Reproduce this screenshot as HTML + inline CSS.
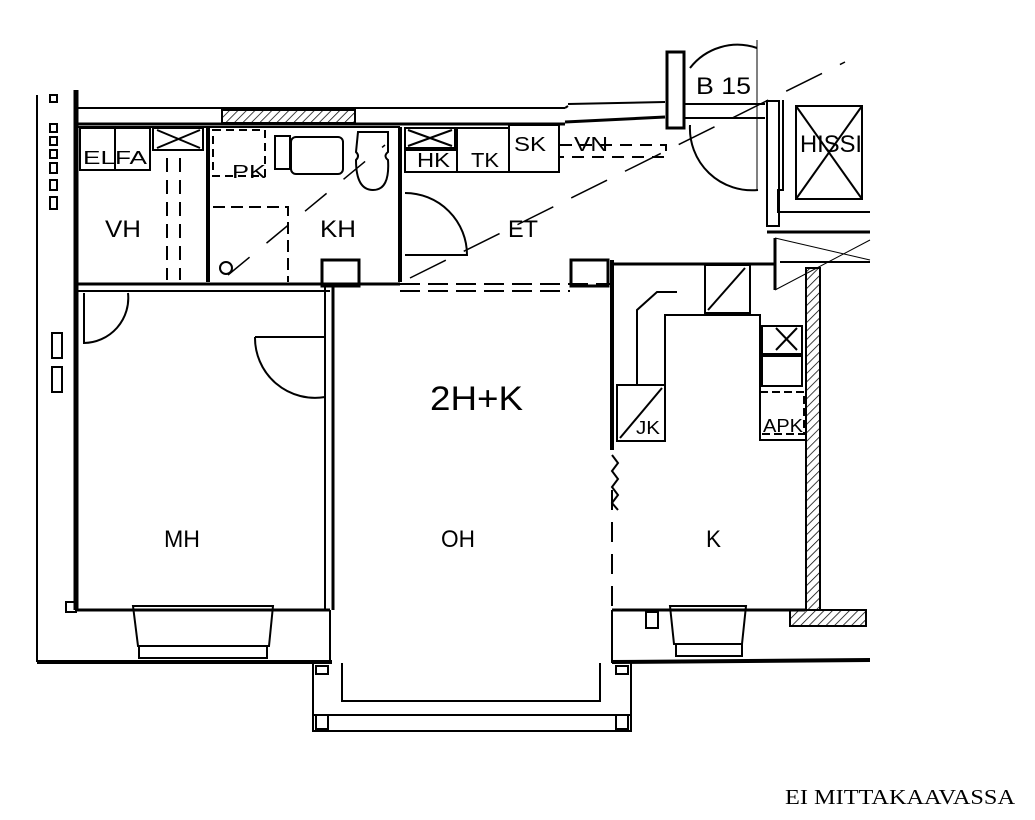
<!DOCTYPE html>
<html><head><style>
html,body{margin:0;padding:0;background:#fff;}
svg{display:block;}
text{font-family:"Liberation Sans","DejaVu Sans",sans-serif;fill:#000;}
</style></head><body>
<svg width="1035" height="820" viewBox="0 0 1035 820" xmlns="http://www.w3.org/2000/svg">
<defs>
<pattern id="h" width="6" height="6" patternUnits="userSpaceOnUse" patternTransform="rotate(45)"><line x1="0" y1="0" x2="0" y2="6" stroke="#000" stroke-width="1.5"/></pattern>
</defs>
<g stroke="#000" fill="none" stroke-width="2">
<line x1="37" y1="95" x2="37" y2="662"/>
<g stroke-width="2"><rect x="50" y="95" width="7" height="7"/><rect x="50" y="124" width="7" height="8"/><rect x="50" y="137" width="7" height="8"/><rect x="50" y="150" width="7" height="8"/><rect x="50" y="163" width="7" height="10"/><rect x="50" y="180" width="7" height="10"/><rect x="50" y="197" width="7" height="12"/>
<rect x="52" y="333" width="10" height="25"/><rect x="52" y="367" width="10" height="25"/></g>
<line x1="76" y1="90" x2="76" y2="610" stroke-width="5"/>
<line x1="76" y1="108" x2="565" y2="108"/><line x1="565" y1="108" x2="568" y2="106"/><line x1="568" y1="104" x2="665" y2="102"/>
<line x1="76" y1="124" x2="565" y2="124" stroke-width="3"/><line x1="565" y1="122" x2="665" y2="117" stroke-width="3"/>
<rect x="222" y="110" width="133" height="13" fill="url(#h)"/>
<rect x="667" y="52" width="17" height="76" stroke-width="3"/>
<path d="M690 68 A60 60 0 0 1 757 48"/><line x1="757" y1="40" x2="757" y2="190" stroke-width="1"/>
<path d="M690 125 A62 62 0 0 0 758 190"/>
<line x1="685" y1="104" x2="765" y2="104"/><line x1="685" y1="118" x2="765" y2="118"/>
<rect x="767" y="101" width="12" height="125"/>
<path d="M783 100 L783 190 L778 190 L778 212 L870 212"/>
<rect x="796" y="106" width="66" height="93"/><line x1="796" y1="106" x2="862" y2="199"/><line x1="862" y1="106" x2="796" y2="199"/>
<line x1="767" y1="232" x2="870" y2="232" stroke-width="3"/><line x1="775" y1="238" x2="775" y2="290" stroke-width="3"/>
<line x1="775" y1="238" x2="870" y2="260" stroke-width="1"/><line x1="775" y1="290" x2="870" y2="240" stroke-width="1"/>
<line x1="780" y1="262" x2="870" y2="262"/>
<line x1="76" y1="127" x2="400" y2="127"/>
<rect x="80" y="128" width="35" height="42"/><rect x="115" y="128" width="35" height="42"/>
<rect x="153" y="128" width="50" height="22"/><line x1="157" y1="130" x2="200" y2="148"/><line x1="200" y1="130" x2="157" y2="148"/>
<line x1="208" y1="127" x2="208" y2="282" stroke-width="4"/>
<line x1="167" y1="158" x2="167" y2="280" stroke-dasharray="14 8"/><line x1="180" y1="158" x2="180" y2="280" stroke-dasharray="14 8"/>
<rect x="213" y="130" width="52" height="46" stroke-dasharray="8 5"/>
<rect x="275" y="136" width="15" height="33"/><rect x="291" y="137" width="52" height="37" rx="5"/>
<path d="M358 132 h30 v20 q-5 4 0 8 q2 30 -15 30 q-17 0 -17 -30 q4 -4 0 -8 z"/>
<line x1="400" y1="127" x2="400" y2="282" stroke-width="4"/>
<path d="M213 207 h75 v75" stroke-dasharray="12 6"/>
<circle cx="226" cy="268" r="6"/>
<rect x="405" y="128" width="50" height="20"/><line x1="408" y1="130" x2="452" y2="146"/><line x1="452" y1="130" x2="408" y2="146"/>
<rect x="405" y="150" width="52" height="22"/><rect x="457" y="128" width="52" height="44"/><rect x="509" y="125" width="50" height="47"/>
<path d="M560 145 h106 v12 h-106" stroke-dasharray="12 8"/>
<path d="M405 193 A62 62 0 0 1 467 255 L405 255"/>
<line x1="228" y1="275" x2="385" y2="145" stroke-dasharray="28 22" stroke-width="1.5"/>
<line x1="410" y1="278" x2="845" y2="62" stroke-dasharray="40 20" stroke-width="1.5"/>
<line x1="76" y1="284" x2="400" y2="284" stroke-width="3"/><line x1="76" y1="291" x2="330" y2="291"/>
<line x1="400" y1="284" x2="610" y2="284" stroke-dasharray="20 8"/><line x1="400" y1="291" x2="570" y2="291" stroke-dasharray="20 8"/>
<rect x="322" y="260" width="37" height="26" stroke-width="3"/>
<rect x="571" y="260" width="37" height="26" stroke-width="3"/>
<path d="M84 293 v50 A45 45 0 0 0 128 293"/>
<path d="M255 337 h70 v60 A60 60 0 0 1 255 337"/>
<line x1="325" y1="285" x2="325" y2="610" stroke-width="2"/><line x1="333" y1="285" x2="333" y2="610" stroke-width="3"/>
<line x1="612" y1="260" x2="612" y2="450" stroke-width="4"/><line x1="612" y1="490" x2="612" y2="610" stroke-dasharray="20 12"/>
<path d="M612 455 l6 8 l-6 8 l6 8 l-6 8 l6 8 l-6 8 l6 7"/>
<line x1="612" y1="264" x2="775" y2="264" stroke-width="3"/>
<path d="M637 385 v-75 l20 -18 h20"/>
<path d="M665 400 v-85 h95 v125 h45"/>
<rect x="617" y="385" width="48" height="56"/><line x1="620" y1="438" x2="662" y2="388"/>
<rect x="705" y="265" width="45" height="48"/><line x1="708" y1="310" x2="745" y2="268"/>
<rect x="762" y="326" width="40" height="28"/><line x1="776" y1="328" x2="797" y2="350"/><line x1="797" y1="328" x2="776" y2="350"/>
<rect x="762" y="356" width="40" height="30"/>
<rect x="760" y="392" width="44" height="42" stroke-dasharray="8 4"/>
<rect x="806" y="268" width="14" height="342" fill="url(#h)"/>
<rect x="790" y="610" width="76" height="16" fill="url(#h)"/>
<line x1="76" y1="610" x2="330" y2="610" stroke-width="3"/>
<line x1="612" y1="610" x2="805" y2="610" stroke-width="3"/>
<rect x="66" y="602" width="10" height="10"/>
<path d="M133 606 h140 l-4 40 h-131 z"/><rect x="139" y="646" width="128" height="12"/>
<path d="M670 606 h76 l-4 38 h-68 z"/><rect x="676" y="644" width="66" height="12"/>
<rect x="646" y="612" width="12" height="16"/>
<line x1="37" y1="662" x2="332" y2="662" stroke-width="4"/>
<line x1="612" y1="662" x2="870" y2="660" stroke-width="4"/>
<path d="M313 663 v68 h318 v-68"/>
<path d="M342 663 v38 h258 v-38"/>
<line x1="330" y1="610" x2="330" y2="663"/><line x1="612" y1="610" x2="612" y2="663"/>
<line x1="313" y1="715" x2="631" y2="715"/>
<rect x="316" y="666" width="12" height="8"/><rect x="616" y="666" width="12" height="8"/>
<rect x="316" y="715" width="12" height="14"/><rect x="616" y="715" width="12" height="14"/>
</g>
<g font-size="24" lengthAdjust="spacingAndGlyphs">
<text x="83" y="164" font-size="18" textLength="64" lengthAdjust="spacingAndGlyphs">ELFA</text>
<text x="232" y="178" font-size="18" lengthAdjust="spacingAndGlyphs" textLength="34">PK</text>
<text x="105" y="237" textLength="36" lengthAdjust="spacingAndGlyphs">VH</text>
<text x="320" y="237" textLength="36" lengthAdjust="spacingAndGlyphs">KH</text>
<text x="417" y="167" font-size="20" textLength="33" lengthAdjust="spacingAndGlyphs">HK</text>
<text x="471" y="167" font-size="20" textLength="28" lengthAdjust="spacingAndGlyphs">TK</text>
<text x="514" y="151" font-size="20" textLength="32" lengthAdjust="spacingAndGlyphs">SK</text>
<text x="574" y="151" font-size="20" textLength="34" lengthAdjust="spacingAndGlyphs">VN</text>
<text x="508" y="237" textLength="30" lengthAdjust="spacingAndGlyphs">ET</text>
<text x="696" y="94" textLength="55" lengthAdjust="spacingAndGlyphs">B 15</text>
<text x="800" y="152" textLength="62" lengthAdjust="spacingAndGlyphs">HISSI</text>
<text x="430" y="410" font-size="34" textLength="93" lengthAdjust="spacingAndGlyphs">2H+K</text>
<text x="164" y="547" textLength="36" lengthAdjust="spacingAndGlyphs">MH</text>
<text x="441" y="547" textLength="34" lengthAdjust="spacingAndGlyphs">OH</text>
<text x="706" y="547" textLength="15" lengthAdjust="spacingAndGlyphs">K</text>
<text x="636" y="434" font-size="18" textLength="24" lengthAdjust="spacingAndGlyphs">JK</text>
<text x="763" y="432" font-size="18" textLength="40" lengthAdjust="spacingAndGlyphs">APK</text>
</g>
<text x="785" y="804" style="font-family:'Liberation Serif',serif" font-size="21" textLength="230" lengthAdjust="spacingAndGlyphs">EI MITTAKAAVASSA</text>
</svg>
</body></html>
